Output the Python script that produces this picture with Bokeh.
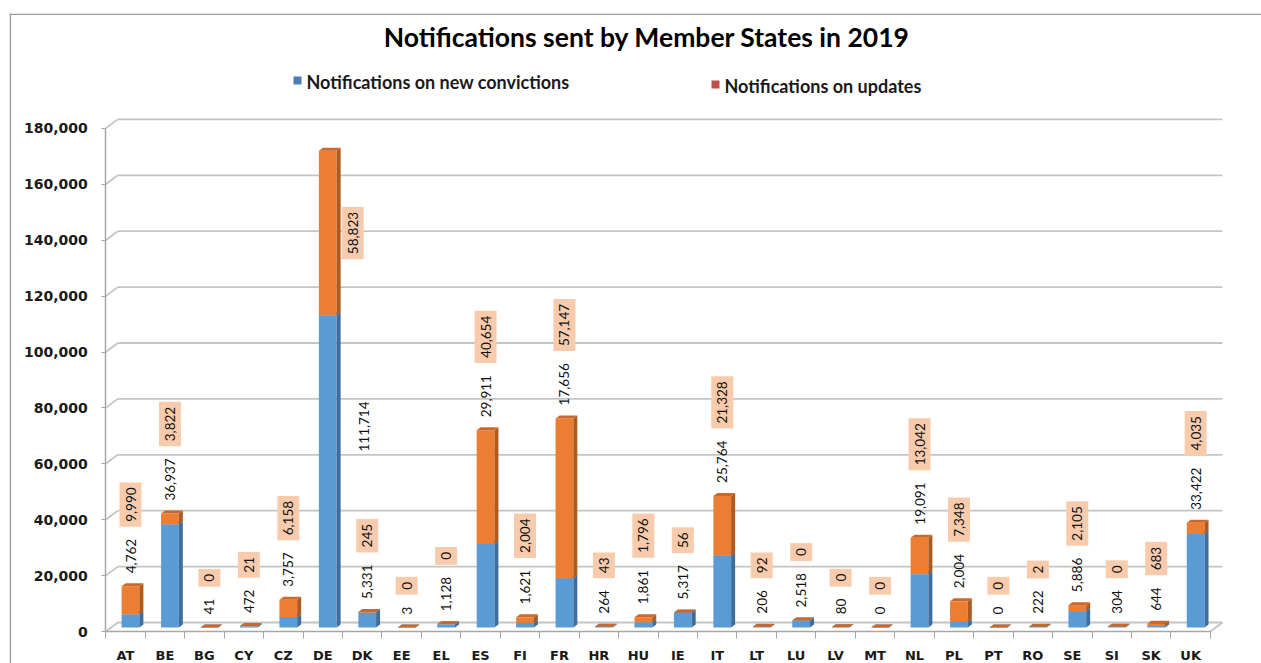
import math
from bokeh.plotting import figure
from bokeh.models import Range1d, FixedTicker, NumeralTickFormatter, LinearAxis
from bokeh.embed import file_html
from bokeh.resources import INLINE
from bokeh.core.properties import value

# ---------------- data ----------------
countries = ["AT", "BE", "BG", "CY", "CZ", "DE", "DK", "EE", "EL", "ES", "FI", "FR", "HR", "HU",
             "IE", "IT", "LT", "LU", "LV", "MT", "NL", "PL", "PT", "RO", "SE", "SI", "SK", "UK"]
new_convictions = [4762, 36937, 41, 472, 3757, 111714, 5331, 3, 1128, 29911, 1621, 17656, 264, 1861,
                   5317, 25764, 206, 2518, 80, 0, 19091, 2004, 0, 222, 5886, 304, 644, 33422]
updates = [9990, 3822, 0, 21, 6158, 58823, 245, 0, 0, 40654, 2004, 57147, 43, 1796,
           56, 21328, 92, 0, 0, 0, 13042, 7348, 0, 2, 2105, 0, 683, 4035]
y_ticks = [0, 20000, 40000, 60000, 80000, 100000, 120000, 140000, 160000, 180000]
title_text = "Notifications sent by Member States in 2019"
legend_new = "Notifications on new convictions"
legend_upd = "Notifications on updates"

# ---------------- geometry ----------------
W, H = 1261, 663
ML, MT = 9, 13
FW, FH = W - ML, H - MT
PXX = 39.45              # px per category
UPP = 20000 / 55.9       # value units per px
x0_px = 125 - ML         # category 0 centre, px from frame left
y0_px = 631 - MT         # value 0, px from frame top
x_start = -x0_px / PXX
x_end = x_start + FW / PXX
y_end = y0_px * UPP
y_start = y_end - FH * UPP


def sx(px):
    return px / PXX


def sy(px):
    return px * UPP


def page_x(px):
    return (px - 125) / PXX


def page_y(py):
    return (631 - py) * UPP


n = len(countries)
idx = list(range(n))

p = figure(width=W, height=H, output_backend="svg", toolbar_location=None, title=None,
           x_range=Range1d(x_start, x_end), y_range=Range1d(y_start, y_end),
           x_axis_location=None, y_axis_location=None,
           min_border_left=ML, min_border_top=MT, min_border_right=0, min_border_bottom=0)
p.outline_line_color = None
p.xgrid.visible = False
p.ygrid.visible = False
p.background_fill_color = "white"
p.border_fill_color = "white"

GRID = "#C4C4C4"
AXIS = "#A6A6A6"

# chart border (top & left)
p.segment(x0=[x_start, x_start + sx(0.8)], y0=[y_end - sy(0.8), y_start],
          x1=[x_end, x_start + sx(0.8)], y1=[y_end - sy(0.8), y_end],
          line_color="#9A9A9A", line_width=1.6)

# 3D back-plane gridlines
gdx, gdy = sx(12), sy(9)
xl, xr = -0.5, n - 0.5
gx0, gy0, gx1, gy1 = [], [], [], []
for v in y_ticks:
    gx0 += [xl, xl + gdx]
    gy0 += [v, v + gdy]
    gx1 += [xl + gdx, xr + gdx]
    gy1 += [v + gdy, v + gdy]
gx0.append(xr); gy0.append(0); gx1.append(xr + gdx); gy1.append(gdy)
p.segment(x0=gx0, y0=gy0, x1=gx1, y1=gy1, line_color=GRID, line_width=1.8)

# ---------------- bars ----------------
half = 0.225
bx_off, by_off = sx(5), sy(4)
ddx, ddy = sx(4), sy(3)
left = [i - half + bx_off for i in idx]
right = [i + half + bx_off for i in idx]
blue_b = [by_off] * n
blue_t = [by_off + v for v in new_convictions]
orng_t = [by_off + v + u for v, u in zip(new_convictions, updates)]


def side_top(bottoms, tops):
    sxs, sys_, txs, tys = [], [], [], []
    for l, r, b, t in zip(left, right, bottoms, tops):
        sxs.append([r, r + ddx, r + ddx, r])
        sys_.append([b, b + ddy, t + ddy, t])
        txs.append([l, r, r + ddx, l + ddx])
        tys.append([t, t, t + ddy, t + ddy])
    return sxs, sys_, txs, tys


bsx, bsy, btx, bty = side_top(blue_b, blue_t)
p.quad(left=left, right=right, bottom=blue_b, top=blue_t, fill_color="#5B9BD5", line_color=None)
p.patches(bsx, bsy, fill_color="#3E6F9C", line_color=None)
p.patches(btx, bty, fill_color="#4F8BC4", line_color=None)

osx, osy, otx, oty = side_top(blue_t, orng_t)
p.quad(left=left, right=right, bottom=blue_t, top=orng_t, fill_color="#ED7D31", line_color=None)
p.patches(osx, osy, fill_color="#AE5A1F", line_color=None)
p.patches(otx, oty, fill_color="#C9682A", line_color=None)

# ---------------- axes ----------------
yaxis = LinearAxis(fixed_location=-0.5, ticker=FixedTicker(ticks=y_ticks, minor_ticks=[]),
                   formatter=NumeralTickFormatter(format="0,0"), bounds=(0, 180000))
yaxis.axis_line_color = AXIS
yaxis.axis_line_width = 1.5
yaxis.major_tick_line_color = AXIS
yaxis.major_tick_out = 4
yaxis.major_tick_in = 0
yaxis.minor_tick_line_color = None
yaxis.major_label_standoff = 14
yaxis.major_label_text_font = "DejaVu Sans"
yaxis.major_label_text_font_style = "bold"
yaxis.major_label_text_font_size = "14px"
yaxis.major_label_text_color = "#1A1A1A"
p.add_layout(yaxis, "left")

xaxis = LinearAxis(fixed_location=0,
                   ticker=FixedTicker(ticks=idx, minor_ticks=[i - 0.5 for i in range(n + 1)]),
                   bounds=(-0.5, n - 0.5))
xaxis.major_label_overrides = {i: c for i, c in enumerate(countries)}
xaxis.axis_line_color = AXIS
xaxis.axis_line_width = 1.5
xaxis.major_tick_line_color = None
xaxis.major_tick_out = 0
xaxis.major_tick_in = 0
xaxis.minor_tick_line_color = AXIS
xaxis.minor_tick_out = 7
xaxis.minor_tick_in = 0
xaxis.major_label_standoff = 9
xaxis.major_label_text_font = "DejaVu Sans"
xaxis.major_label_text_font_style = "bold"
xaxis.major_label_text_font_size = "13px"
xaxis.major_label_text_color = "#1A1A1A"
p.add_layout(xaxis, "below")

# ---------------- data labels ----------------
FS = 13.5


def tw(s):
    return sum(0.58 * FS if ch.isdigit() else 0.235 * FS for ch in s)


b_x, b_y, b_s = [], [], []
o_x, o_y, o_s = [], [], []
bc_x, bc_y, bc_s = [], [], []
oc_x, oc_y, oc_s = [], [], []
for i in idx:
    bs = f"{new_convictions[i]:,}"
    us = f"{updates[i]:,}"
    xb = i + bx_off
    ya = orng_t[i] + ddy + sy(10)
    yo = ya + sy(tw(bs) + 12)
    if yo + sy(tw(us) + 6) > y_ticks[-1]:
        # not enough room above the bar: put the labels beside it
        oc_x.append(xb + sx(25)); oc_y.append(blue_t[i] + updates[i] / 2); oc_s.append(us)
        bc_x.append(xb + sx(36)); bc_y.append(sy(205)); bc_s.append(bs)
    else:
        b_x.append(xb); b_y.append(ya); b_s.append(bs)
        o_x.append(xb); o_y.append(yo); o_s.append(us)

lab_kw = dict(angle=math.pi / 2, text_font=value("Lato"), text_font_size=f"{FS}px",
              text_color="#111111", text_baseline="middle")
box_kw = dict(background_fill_color="#F8CBAD", padding=(5, 6))
p.text(x=b_x, y=b_y, text=b_s, text_align="left", **lab_kw)
p.text(x=o_x, y=o_y, text=o_s, text_align="left", **lab_kw, **box_kw)
p.text(x=bc_x, y=bc_y, text=bc_s, text_align="center", **lab_kw)
p.text(x=oc_x, y=oc_y, text=oc_s, text_align="center", **lab_kw, **box_kw)

# ---------------- title & legend ----------------
p.text(x=[page_x(646.5)], y=[page_y(36)], text=[title_text], text_align="center",
       text_baseline="middle", text_font=value("Lato"), text_font_style="bold",
       text_font_size="26.5px", text_color="#000000")
p.scatter(x=[page_x(297), page_x(715)], y=[page_y(80), page_y(84)], marker="square", size=8,
          fill_color=["#4A7EBB", "#C0504D"], line_color=None)
p.text(x=[page_x(306), page_x(724)], y=[page_y(81), page_y(85)], text=[legend_new, legend_upd],
       text_align="left", text_baseline="middle", text_font=value("Lato"), text_font_style="bold",
       text_font_size="18px", text_color="#1A1A1A")

open("out.html", "w").write(file_html(p, INLINE))
